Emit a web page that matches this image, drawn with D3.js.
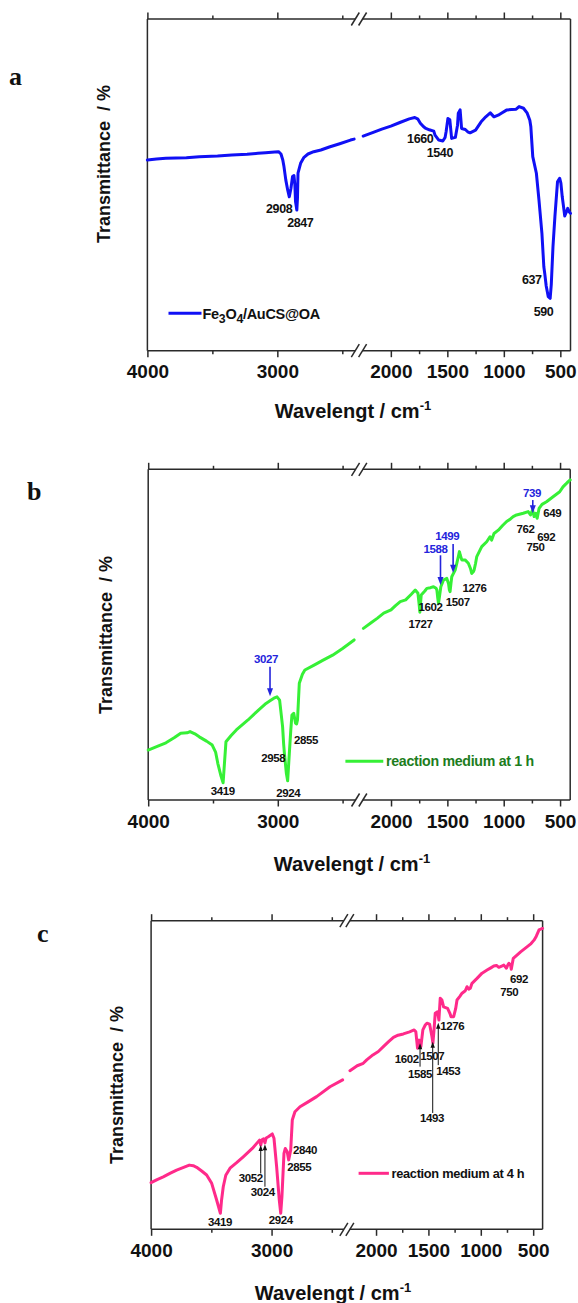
<!DOCTYPE html>
<html>
<head>
<meta charset="utf-8">
<script src="https://cdn.jsdelivr.net/npm/d3@7"></script>
<style>
  html, body { margin: 0; padding: 0; background: #fff; }
  svg { display: block; }
  text { font-family: "Liberation Sans", Arial, sans-serif; font-weight: bold; }
  text.letter { font-family: "Liberation Serif", "Times New Roman", serif; }
</style>
</head>
<body>
<svg id="fig" width="578" height="1303"></svg>
<script>
// ---- axis layout shared by the three spectra (broken wavenumber axis) ----
const leftDomain = [4000, 2400];
const rightDomain = [2250, 410];
const majorLeft = [4000, 3000];
const minorLeft = [3500, 2500];
const majorRight = [2000, 1500, 1000, 500];
const minorRight = [1750, 1250, 750];

// ---- (a) Fe3O4/AuCS@OA ----
const waveA = [4000, 3930, 3858, 3700, 3600, 3460, 3350, 3233, 3150, 3091, 3020, 2991, 2972, 2958, 2949, 2935, 2920, 2908, 2895, 2883, 2872, 2865, 2860, 2850, 2845, 2841, 2821, 2795, 2764, 2720, 2665, 2600, 2520, 2437, 2409,
  2245, 2150, 2080, 2000, 1920, 1837, 1788, 1760, 1739, 1710, 1690, 1660, 1620, 1609, 1576, 1540, 1520, 1511, 1495, 1478, 1462, 1429, 1410, 1403, 1387, 1374, 1341, 1320, 1299, 1250, 1201, 1160, 1120, 1087, 1050, 1022, 973, 930, 891, 865, 826, 793, 770, 761, 744, 712, 689, 663, 646, 637, 625, 607, 590, 580, 565, 548, 525, 506, 495, 483, 470, 461, 450, 435, 420, 410];
const transA = [57.5, 57.8, 58.0, 58.2, 58.5, 58.7, 59.0, 59.2, 59.5, 59.7, 59.9, 60.0, 59.3, 57.5, 55.5, 51.5, 48.4, 46.4, 49.0, 52.5, 52.8, 50.0, 45.0, 42.4, 46.0, 53.5, 56.5, 58.3, 59.3, 60.0, 60.5, 61.4, 62.4, 63.5, 63.8,
  64.7, 65.9, 66.8, 67.7, 68.8, 69.9, 70.3, 69.8, 68.6, 67.5, 67.0, 66.6, 66.2, 65.0, 63.5, 63.2, 64.3, 66.0, 70.0, 69.6, 64.0, 64.3, 68.0, 71.6, 72.6, 67.0, 66.7, 66.0, 65.7, 66.5, 69.0, 70.5, 71.7, 70.5, 71.0, 71.6, 72.6, 72.7, 72.8, 73.6, 73.1, 71.6, 69.5, 67.5, 58.5, 53.5, 45.4, 35.4, 25.3, 23.0, 19.5, 16.3, 15.8, 20.0, 31.4, 40.4, 50.9, 52.0, 50.5, 46.4, 43.0, 40.6, 41.5, 42.9, 41.8, 41.4];
const peaksA = [[2986, 41.4, "2908"], [2823, 37.4, "2847"], [1740, 62.7, "1660"], [1566, 58.3, "1540"], [752, 20.1, "637"], [649, 10.5, "590"]];

// ---- (b) reaction medium at 1 h ----
const waveB = [4000, 3930, 3863, 3800, 3749, 3700, 3677, 3640, 3606, 3550, 3506, 3480, 3463, 3440, 3422, 3410, 3400, 3360, 3320, 3230, 3149, 3091, 3060, 3030, 3006, 2986, 2963, 2955, 2949, 2934, 2924, 2911, 2900, 2891, 2877, 2863, 2855, 2848, 2834, 2810, 2791, 2720, 2650, 2577, 2500, 2411,
  2245, 2180, 2120, 2065, 2000, 1960, 1918, 1870, 1820, 1785, 1761, 1750, 1744, 1738, 1732, 1700, 1682, 1650, 1623, 1600, 1593, 1585, 1579, 1570, 1558, 1535, 1505, 1490, 1482, 1476, 1468, 1461, 1431, 1416, 1400, 1393, 1385, 1372, 1343, 1314, 1295, 1284, 1270, 1263, 1250, 1239, 1195, 1151, 1122, 1107, 1086, 1048, 1010, 974, 940, 916, 886, 827, 783, 762, 744, 730, 715, 703, 686, 660, 620, 562, 503, 474, 450, 430, 410];
const transB = [15.1, 16.2, 17.3, 18.8, 20.2, 20.3, 20.7, 20.0, 19.1, 17.8, 16.6, 14.5, 11.1, 7.5, 5.2, 12.0, 17.6, 19.5, 21.2, 24.2, 27.2, 29.2, 30.0, 30.8, 31.2, 30.2, 22.2, 17.0, 14.1, 8.1, 5.8, 14.1, 21.0, 25.7, 26.2, 23.2, 23.0, 24.2, 35.3, 38.0, 39.3, 40.8, 42.3, 43.8, 45.8, 48.4,
  51.9, 53.5, 55.0, 56.5, 57.5, 58.8, 60.0, 60.5, 62.2, 63.5, 62.5, 59.0, 56.8, 59.5, 62.0, 63.2, 64.0, 64.2, 64.5, 64.0, 63.5, 61.0, 59.5, 61.5, 64.5, 66.5, 67.0, 65.5, 63.5, 63.0, 65.5, 67.5, 69.5, 71.6, 74.0, 75.1, 74.0, 72.6, 72.6, 71.6, 70.0, 68.5, 69.0, 69.5, 71.5, 73.6, 76.6, 78.1, 79.6, 78.6, 80.6, 81.6, 83.0, 84.2, 85.0, 85.7, 86.2, 86.7, 87.2, 86.2, 87.7, 85.7, 86.7, 85.2, 88.2, 89.4, 90.2, 91.7, 93.2, 94.7, 95.5, 96.2, 96.8];
const peaksB = [[3425, 1.5, "3419"], [3035, 11.6, "2958"], [2919, 1.0, "2924"], [2782, 16.9, "2855"],
  [1739, 51.9, "1727"], [1650, 57.1, "1602"], [1408, 58.7, "1507"], [1260, 62.9, "1276"],
  [807, 80.7, "762"], [623, 78.3, "692"], [718, 75.2, "750"], [570, 85.5, "649"]];
// arrowed bands: [wavenumber, label t, tail t, tip t, text]
const arrowsB = [[3060, 41.5, 40.3, 31.4, "3027"], [1561, 74.8, 74.0, 65.0, "1588"], [1449, 78.6, 77.4, 68.7, "1499"], [742, 91.6, 90.7, 86.7, "739"]];
const arrowLabelWaveB = [3091, 1606, 1502, 748];

// ---- (c) reaction medium at 4 h ----
const waveC = [4000, 3950, 3899, 3840, 3788, 3730, 3683, 3650, 3622, 3580, 3539, 3497, 3456, 3425, 3415, 3401, 3380, 3345, 3290, 3235, 3160, 3100, 3090, 3080, 3066, 3055, 3045, 3027, 2994, 2980, 2958, 2936, 2924, 2914, 2897, 2886, 2870, 2858, 2841, 2828, 2806, 2764, 2700, 2626, 2515, 2410,
  2249, 2180, 2122, 2089, 2030, 1978, 1930, 1880, 1834, 1790, 1739, 1680, 1636, 1620, 1604, 1588, 1572, 1553, 1530, 1514, 1489, 1466, 1457, 1448, 1435, 1413, 1400, 1387, 1371, 1355, 1317, 1295, 1284, 1259, 1240, 1227, 1200, 1179, 1148, 1132, 1115, 1100, 1084, 1060, 1036, 988, 940, 900, 876, 850, 828, 800, 780, 755, 740, 732, 715, 709, 700, 690, 660, 620, 556, 520, 492, 470, 444, 420, 410];
const transC = [15.1, 16.1, 17.0, 18.2, 19.2, 20.1, 20.8, 20.6, 20.1, 18.9, 17.6, 14.9, 9.5, 5.2, 9.5, 13.8, 17.5, 19.8, 21.6, 23.5, 26.2, 28.9, 27.3, 29.0, 29.3, 28.0, 29.6, 30.0, 30.9, 29.5, 20.3, 9.5, 5.2, 10.6, 24.6, 26.2, 25.1, 22.5, 25.7, 35.4, 38.1, 39.7, 41.2, 43.0, 46.2, 48.4,
  51.4, 53.0, 53.8, 54.9, 56.5, 57.6, 59.2, 60.8, 62.2, 62.9, 63.3, 64.0, 64.6, 64.0, 58.7, 61.3, 59.2, 64.6, 66.2, 66.8, 66.5, 62.4, 60.3, 64.0, 70.0, 70.5, 67.8, 74.9, 74.3, 72.1, 71.6, 70.0, 68.9, 68.9, 71.5, 74.3, 75.5, 76.5, 77.3, 78.6, 77.8, 78.1, 79.7, 80.5, 81.3, 83.0, 84.0, 84.8, 85.3, 85.5, 84.9, 85.3, 85.6, 84.6, 85.8, 86.2, 85.5, 84.3, 86.0, 87.8, 88.7, 89.9, 91.6, 92.6, 93.7, 95.0, 97.0, 97.4, 97.5];
const peaksC = [[3428, 1.0, "3419"], [3173, 15.2, "3052"], [3074, 10.7, "3024"], [2924, 1.8, "2924"], [2723, 24.4, "2840"], [2770, 18.8, "2855"],
  [1707, 53.8, "1602"], [1463, 54.8, "1507"], [1580, 49.0, "1585"], [1310, 50.1, "1453"], [1466, 34.7, "1493"], [1272, 64.7, "1276"],
  [636, 79.9, "692"], [728, 75.6, "750"]];
// upward arrows: [wavenumber, tip t, tail t]
const arrowsC = [[3090, 27.3, 18.1], [3055, 27.6, 13.8], [1580, 60.3, 52.7], [1459, 60.8, 37.7], [1406, 66.9, 53.2]];

const panels = [
  { id: "a", L: 147.4, R: 570.5, T: 19, B: 350.7, gap: 7.3, color: "#1010f5", wave: waveA, trans: transA, peaks: peaksA, peakSize: 12.5,
    letter: [9, 85], title: [353, 418], ytitle: [110, 164],
    legend: { x1: 168.5, x2: 201.5, y: 313.3, tx: 202.5, size: 14.5, fill: "#111", text: null } },
  { id: "b", L: 148.2, R: 570.2, T: 469.3, B: 800, gap: 7.3, color: "#36f036", wave: waveB, trans: transB, peaks: peaksB, peakSize: 11.5,
    letter: [27, 500], title: [352, 871], ytitle: [112, 635],
    legend: { x1: 345.4, x2: 383.3, y: 761.2, tx: 386, size: 14.2, fill: "#1d7d1d", text: "reaction medium at 1 h" } },
  { id: "c", L: 151.1, R: 542.6, T: 920.7, B: 1229.3, gap: 6.0, color: "#ff2a8a", wave: waveC, trans: transC, peaks: peaksC, peakSize: 11.5,
    letter: [37, 941.7], title: [333, 1300], ytitle: [123, 1085],
    legend: { x1: 358.6, x2: 388.9, y: 1173.3, tx: 391.5, size: 12.8, fill: "#111", text: "reaction medium at 4 h" } }
];

const svg = d3.select("#fig");
const axisColor = "#2a2a2a";
const tickLabelOffset = 27.5;

panels.forEach(p => {
  const g = svg.append("g").attr("class", "panel-" + p.id);
  const seg = (p.R - p.L - p.gap) / 2;
  const xL = d3.scaleLinear().domain(leftDomain).range([p.L, p.L + seg]);
  const xR = d3.scaleLinear().domain(rightDomain).range([p.L + seg + p.gap, p.R]);
  const x = d3.scaleLinear().domain([...leftDomain, ...rightDomain]).range([p.L, p.L + seg, p.L + seg + p.gap, p.R]);
  const y = d3.scaleLinear().domain([0, 100]).range([p.B, p.T]);

  // frame with a break on top and bottom
  const bx1 = p.L + seg, bx2 = p.L + seg + p.gap;
  const frame = g.append("g").attr("stroke", axisColor).attr("stroke-width", 1.5).attr("fill", "none");
  [p.T, p.B].forEach(yy => {
    frame.append("line").attr("x1", p.L).attr("x2", bx1).attr("y1", yy).attr("y2", yy);
    frame.append("line").attr("x1", bx2).attr("x2", p.R).attr("y1", yy).attr("y2", yy);
    [bx1, bx2].forEach(bx => {
      frame.append("line").attr("x1", bx - 4).attr("y1", yy + 6.5).attr("x2", bx + 4).attr("y2", yy - 6.5);
    });
  });
  frame.append("line").attr("x1", p.L).attr("x2", p.L).attr("y1", p.T).attr("y2", p.B);
  frame.append("line").attr("x1", p.R).attr("x2", p.R).attr("y1", p.T).attr("y2", p.B);

  // ticks: major with labels on the bottom, all ticks point outward
  const addAxis = (scale, vals, size, labelled, top) => {
    const ax = (top ? d3.axisTop(scale) : d3.axisBottom(scale))
      .tickValues(vals).tickSize(size).tickPadding(2)
      .tickFormat(labelled ? d3.format("d") : "");
    const ag = g.append("g").attr("transform", `translate(0,${top ? p.T : p.B})`).call(ax);
    ag.select(".domain").remove();
    ag.selectAll(".tick line").attr("stroke", axisColor).attr("stroke-width", 1.5);
    ag.selectAll(".tick text")
      .attr("font-size", 19).attr("fill", "#111")
      .attr("font-family", null)
      .attr("y", tickLabelOffset).attr("dy", 0);
  };
  [[xL, majorLeft, minorLeft], [xR, majorRight, minorRight]].forEach(([s, maj, min]) => {
    addAxis(s, maj, 6.5, true, false);
    addAxis(s, min, 3.5, false, false);
    addAxis(s, maj, 6.5, false, true);
    addAxis(s, min, 3.5, false, true);
  });

  // spectrum, drawn as two pieces on either side of the break
  const pts = p.wave.map((w, i) => [w, p.trans[i]]);
  const line = d3.line().x(d => x(d[0])).y(d => y(d[1]));
  const pieces = [pts.filter(d => d[0] >= leftDomain[1]), pts.filter(d => d[0] <= rightDomain[0])];
  g.selectAll("path.spec").data(pieces).join("path")
    .attr("class", "spec")
    .attr("d", line)
    .attr("fill", "none").attr("stroke", p.color)
    .attr("stroke-width", 3).attr("stroke-linejoin", "round").attr("stroke-linecap", "round");

  // band assignments
  g.selectAll("text.peak").data(p.peaks).join("text")
    .attr("class", "peak")
    .attr("x", d => x(d[0])).attr("y", d => y(d[1]))
    .attr("text-anchor", "middle")
    .attr("font-size", p.peakSize).attr("letter-spacing", -0.4).attr("fill", "#111")
    .text(d => d[2]);

  // panel letter
  g.append("text").attr("class", "letter").attr("x", p.letter[0]).attr("y", p.letter[1])
    .attr("font-size", 26).attr("fill", "#111").text(p.id);

  // axis titles
  const t = g.append("text").attr("x", p.title[0]).attr("y", p.title[1])
    .attr("text-anchor", "middle").attr("font-size", 20).attr("fill", "#111");
  t.append("tspan").text("Wavelengt / cm");
  t.append("tspan").attr("font-size", 13).attr("dy", -8).text("-1");

  g.append("text")
    .attr("transform", `translate(${p.ytitle[0]},${p.ytitle[1]}) rotate(-90)`)
    .attr("text-anchor", "middle").attr("font-size", 18).attr("fill", "#111")
    .style("white-space", "pre")
    .text("Transmittance  / %");

  // legend
  const lg = p.legend;
  g.append("line").attr("x1", lg.x1).attr("x2", lg.x2).attr("y1", lg.y).attr("y2", lg.y)
    .attr("stroke", p.color).attr("stroke-width", 3);
  const lt = g.append("text").attr("x", lg.tx).attr("y", lg.y + lg.size * 0.36)
    .attr("font-size", lg.size).attr("fill", lg.fill).attr("letter-spacing", -0.3);
  if (lg.text) {
    lt.text(lg.text);
  } else {
    lt.append("tspan").text("Fe");
    lt.append("tspan").attr("dy", 4).attr("font-size", lg.size * 0.85).text("3");
    lt.append("tspan").attr("dy", -4).text("O");
    lt.append("tspan").attr("dy", 4).attr("font-size", lg.size * 0.85).text("4");
    lt.append("tspan").attr("dy", -4).text("/AuCS@OA");
  }

  p.x = x; p.y = y; p.g = g;
});

// blue arrows in (b)
{
  const p = panels[1], blue = "#2424dc";
  arrowsB.forEach((a, i) => {
    const ax = p.x(a[0]), y1 = p.y(a[2]), y2 = p.y(a[3]);
    p.g.append("line").attr("x1", ax).attr("x2", ax).attr("y1", y1).attr("y2", y2 - 6)
      .attr("stroke", blue).attr("stroke-width", 1.6);
    p.g.append("path").attr("d", `M${ax - 3},${y2 - 8} L${ax + 3},${y2 - 8} L${ax},${y2} Z`).attr("fill", blue);
    p.g.append("text").attr("x", p.x(arrowLabelWaveB[i])).attr("y", p.y(a[1]))
      .attr("text-anchor", "middle").attr("font-size", 11.5).attr("letter-spacing", -0.4)
      .attr("fill", blue).text(a[4]);
  });
}

// black arrows in (c)
{
  const p = panels[2];
  arrowsC.forEach(a => {
    const ax = p.x(a[0]), tip = p.y(a[1]), tail = p.y(a[2]);
    p.g.append("line").attr("x1", ax).attr("x2", ax).attr("y1", tip + 5).attr("y2", tail)
      .attr("stroke", "#111").attr("stroke-width", 1);
    p.g.append("path").attr("d", `M${ax - 2.2},${tip + 6} L${ax + 2.2},${tip + 6} L${ax},${tip} Z`).attr("fill", "#111");
  });
}
</script>
</body>
</html>
